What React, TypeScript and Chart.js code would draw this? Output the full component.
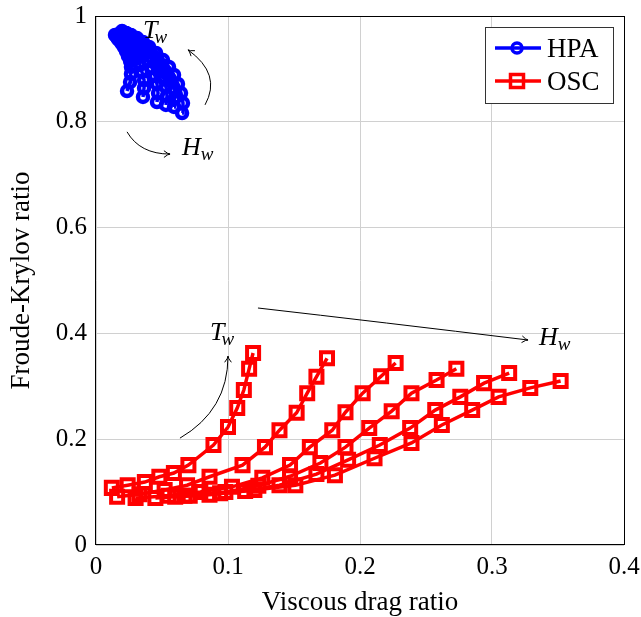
import React, { useEffect, useRef } from "react";
import { Chart, registerables } from "chart.js";

Chart.register(...registerables);

// HPA: one curve per wave height, points along wave period
const hpaViscous: number[][] = [
  [0.0235, 0.0258, 0.0265, 0.0265, 0.0258, 0.0242, 0.0227, 0.0212, 0.0197, 0.0182, 0.0167, 0.0159, 0.0152, 0.0144],
  [0.0356, 0.0364, 0.0364, 0.0348, 0.0333, 0.0311, 0.0288, 0.0265, 0.0242, 0.022, 0.0197, 0.0182, 0.0167, 0.0159],
  [0.0462, 0.047, 0.0462, 0.0447, 0.0424, 0.0394, 0.0364, 0.0326, 0.0295, 0.0265, 0.0235, 0.0212, 0.0189, 0.0174],
  [0.053, 0.0538, 0.053, 0.0515, 0.0485, 0.0455, 0.0417, 0.0379, 0.0341, 0.0303, 0.0265, 0.0235, 0.0212, 0.0189],
  [0.0591, 0.0598, 0.0591, 0.0568, 0.0538, 0.05, 0.0462, 0.0417, 0.0371, 0.0333, 0.0295, 0.0258, 0.0227, 0.0197],
  [0.0652, 0.0659, 0.0644, 0.0621, 0.0591, 0.0553, 0.0508, 0.0455, 0.0402, 0.0356, 0.0311, 0.0265, 0.0227, 0.0197],
];
const hpaFK: number[][] = [
  [0.8582, 0.8752, 0.8904, 0.9036, 0.9149, 0.9244, 0.9338, 0.9414, 0.9471, 0.9527, 0.9565, 0.9603, 0.9622, 0.9641],
  [0.8469, 0.8639, 0.879, 0.8941, 0.9074, 0.9206, 0.9319, 0.9395, 0.9471, 0.9527, 0.9565, 0.9603, 0.9622, 0.9641],
  [0.8374, 0.8544, 0.8715, 0.8866, 0.9017, 0.9149, 0.9263, 0.9376, 0.9452, 0.9509, 0.9565, 0.9603, 0.9641, 0.966],
  [0.8318, 0.8488, 0.8658, 0.8809, 0.896, 0.9112, 0.9225, 0.9338, 0.9433, 0.9509, 0.9565, 0.9622, 0.966, 0.9679],
  [0.828, 0.845, 0.862, 0.8771, 0.8922, 0.9074, 0.9206, 0.9319, 0.9414, 0.9509, 0.9584, 0.9641, 0.9679, 0.9698],
  [0.8166, 0.8355, 0.8544, 0.8715, 0.8885, 0.9036, 0.9168, 0.9301, 0.9414, 0.9509, 0.9584, 0.9641, 0.9679, 0.9716],
];

// OSC: one curve per wave height, points along wave period
const oscViscous: number[][] = [
  [0.012, 0.024, 0.037, 0.048, 0.059, 0.07, 0.089, 0.1, 0.107, 0.112, 0.116, 0.119],
  [0.016, 0.033, 0.052, 0.069, 0.086, 0.111, 0.128, 0.139, 0.152, 0.16, 0.167, 0.175],
  [0.03, 0.055, 0.079, 0.103, 0.126, 0.147, 0.162, 0.179, 0.189, 0.202, 0.216, 0.227],
  [0.045, 0.071, 0.098, 0.123, 0.147, 0.17, 0.189, 0.207, 0.224, 0.239, 0.258, 0.273],
  [0.06, 0.086, 0.113, 0.139, 0.167, 0.191, 0.215, 0.238, 0.257, 0.276, 0.294, 0.313],
  [0.067, 0.094, 0.12, 0.151, 0.181, 0.211, 0.239, 0.262, 0.285, 0.305, 0.329, 0.352],
];
const oscFK: number[][] = [
  [0.108, 0.113, 0.119, 0.129, 0.136, 0.151, 0.189, 0.223, 0.259, 0.293, 0.333, 0.363],
  [0.091, 0.096, 0.104, 0.113, 0.129, 0.151, 0.185, 0.217, 0.25, 0.287, 0.318, 0.353],
  [0.089, 0.093, 0.1, 0.11, 0.127, 0.151, 0.185, 0.217, 0.251, 0.287, 0.319, 0.344],
  [0.089, 0.093, 0.1, 0.112, 0.13, 0.155, 0.185, 0.221, 0.253, 0.287, 0.312, 0.333],
  [0.091, 0.095, 0.102, 0.113, 0.134, 0.161, 0.189, 0.221, 0.255, 0.28, 0.306, 0.325],
  [0.093, 0.098, 0.104, 0.113, 0.132, 0.164, 0.193, 0.227, 0.255, 0.28, 0.297, 0.31],
];

const xTickLabels = ["0", "0.1", "0.2", "0.3", "0.4"];
const yTickLabels = ["0", "0.2", "0.4", "0.6", "0.8", "1"];
const xTitle = "Viscous drag ratio";
const yTitle = "Froude-Krylov ratio";
const seriesNames = ["HPA", "OSC"];

// annotation arrows in data coordinates: start, control, end
const arrows = [
  { s: [0.0826, 0.832], c: [0.0955, 0.89], e: [0.0697, 0.936] },
  { s: [0.0235, 0.781], c: [0.0333, 0.739], e: [0.0561, 0.739] },
  { s: [0.0636, 0.202], c: [0.1, 0.255], e: [0.1, 0.357] },
  { s: [0.1227, 0.448], c: [0.2152, 0.4215], e: [0.3273, 0.3875] },
];
const mathLabels = [
  { main: "T", sub: "w", at: [0.0356, 0.958] },
  { main: "H", sub: "w", at: [0.0652, 0.737] },
  { main: "T", sub: "w", at: [0.0864, 0.388] },
  { main: "H", sub: "w", at: [0.3356, 0.378] },
];

const SERIF = "'Liberation Serif', 'DejaVu Serif', 'Times New Roman', serif";
const BLUE = "#0000ff";
const RED = "#ff0000";

const overlay = {
  id: "overlay",
  afterDatasetsDraw(chart: any) {
    const ctx = chart.ctx;
    const xs = chart.scales.x;
    const ys = chart.scales.y;
    const a = chart.chartArea;
    ctx.save();
    // frame
    ctx.strokeStyle = "#000";
    ctx.lineWidth = 1;
    ctx.strokeRect(Math.round(a.left) - 0.5, Math.round(a.top) + 0.5, Math.round(a.right - a.left) + 1, Math.round(a.bottom - a.top) - 1);

    // arrows
    ctx.strokeStyle = "#000";
    ctx.lineWidth = 1;
    for (const ar of arrows) {
      const sx = xs.getPixelForValue(ar.s[0]);
      const sy = ys.getPixelForValue(ar.s[1]);
      const cx = xs.getPixelForValue(ar.c[0]);
      const cy = ys.getPixelForValue(ar.c[1]);
      const ex = xs.getPixelForValue(ar.e[0]);
      const ey = ys.getPixelForValue(ar.e[1]);
      ctx.beginPath();
      ctx.moveTo(sx, sy);
      ctx.quadraticCurveTo(cx, cy, ex, ey);
      ctx.stroke();
      const ang = Math.atan2(ey - cy, ex - cx);
      const L = 7;
      ctx.beginPath();
      ctx.moveTo(ex - L * Math.cos(ang - 0.5), ey - L * Math.sin(ang - 0.5));
      ctx.quadraticCurveTo(ex - 2 * Math.cos(ang), ey - 2 * Math.sin(ang), ex, ey);
      ctx.quadraticCurveTo(ex - 2 * Math.cos(ang), ey - 2 * Math.sin(ang), ex - L * Math.cos(ang + 0.5), ey - L * Math.sin(ang + 0.5));
      ctx.stroke();
    }

    // math labels
    ctx.fillStyle = "#000";
    ctx.textBaseline = "alphabetic";
    ctx.textAlign = "left";
    for (const m of mathLabels) {
      const px = xs.getPixelForValue(m.at[0]);
      const py = ys.getPixelForValue(m.at[1]);
      ctx.font = `italic 26px ${SERIF}`;
      ctx.fillText(m.main, px, py);
      const w = ctx.measureText(m.main).width;
      ctx.font = `italic 19px ${SERIF}`;
      ctx.fillText(m.sub, px + w - (m.main === "T" ? 3 : 0), py + 5);
    }

    // axis titles
    ctx.font = `27px ${SERIF}`;
    ctx.textAlign = "center";
    ctx.fillText(xTitle, (a.left + a.right) / 2, a.bottom + 65);
    ctx.save();
    ctx.translate(a.left - 67, (a.top + a.bottom) / 2);
    ctx.rotate(-Math.PI / 2);
    ctx.fillText(yTitle, 0, 0);
    ctx.restore();

    // legend
    const lx = a.right - 139;
    const ly = a.top + 11;
    const lw = 128;
    const lh = 76;
    ctx.fillStyle = "#fff";
    ctx.fillRect(lx, ly, lw, lh);
    ctx.strokeStyle = "#333";
    ctx.lineWidth = 1;
    ctx.strokeRect(lx + 0.5, ly + 0.5, lw, lh);
    const rows = [
      { name: seriesNames[0], color: BLUE, shape: "circle", y: ly + 21 },
      { name: seriesNames[1], color: RED, shape: "rect", y: ly + 54 },
    ];
    for (const r of rows) {
      ctx.strokeStyle = r.color;
      ctx.lineWidth = 3.5;
      ctx.beginPath();
      ctx.moveTo(lx + 10, r.y);
      ctx.lineTo(lx + 56, r.y);
      ctx.stroke();
      ctx.beginPath();
      if (r.shape === "circle") {
        ctx.arc(lx + 32, r.y, 5, 0, Math.PI * 2);
      } else {
        ctx.rect(lx + 32 - 6.5, r.y - 6.5, 13, 13);
      }
      ctx.stroke();
      ctx.fillStyle = "#000";
      ctx.font = `27px ${SERIF}`;
      ctx.textAlign = "left";
      ctx.fillText(r.name, lx + 62, r.y + 9);
    }
    ctx.restore();
  },
};

export default function App() {
  const ref = useRef<HTMLCanvasElement | null>(null);
  useEffect(() => {
    if (!ref.current) return;
    const datasets: any[] = [];
    oscViscous.forEach((xsArr, i) => {
      datasets.push({
        label: i === 0 ? seriesNames[1] : "",
        data: xsArr.map((v, j) => ({ x: v, y: oscFK[i][j] })),
        showLine: true,
        borderColor: RED,
        backgroundColor: "rgba(0,0,0,0)",
        borderWidth: 3.5,
        pointStyle: "rect",
        pointRadius: 8.5,
        pointBorderWidth: 4,
        pointBorderColor: RED,
        pointBackgroundColor: "rgba(0,0,0,0)",
        tension: 0,
      });
    });
    hpaViscous.forEach((xsArr, i) => {
      datasets.push({
        label: i === 0 ? seriesNames[0] : "",
        data: xsArr.map((v, j) => ({ x: v, y: hpaFK[i][j] })),
        showLine: true,
        borderColor: BLUE,
        backgroundColor: "rgba(0,0,0,0)",
        borderWidth: 3.5,
        pointStyle: "circle",
        pointRadius: 5,
        pointBorderWidth: 4.5,
        pointBorderColor: BLUE,
        pointBackgroundColor: "rgba(0,0,0,0)",
        tension: 0,
      });
    });
    const chart = new Chart(ref.current, {
      type: "scatter",
      data: { datasets },
      options: {
        animation: false,
        responsive: false,
        devicePixelRatio: 1,
        layout: { padding: { left: 0, right: 17, top: 16, bottom: 0 } },
        plugins: { legend: { display: false }, tooltip: { enabled: false } },
        scales: {
          x: {
            type: "linear",
            min: 0,
            max: 0.4,
            afterFit: (s: any) => {
              s.height = 72;
              s.paddingLeft = 0;
              s.paddingRight = 0;
            },
            ticks: {
              stepSize: 0.1,
              padding: 7,
              color: "#000",
              font: { family: SERIF, size: 25 },
              maxRotation: 0,
              callback: (_v: any, i: number) => xTickLabels[i],
            },
            grid: { color: "#d0d0d0", lineWidth: 1, drawTicks: false },
            border: { display: false },
          },
          y: {
            type: "linear",
            min: 0,
            max: 1,
            afterFit: (s: any) => {
              s.width = 96;
              s.paddingTop = 0;
              s.paddingBottom = 0;
            },
            ticks: {
              stepSize: 0.2,
              padding: 9,
              color: "#000",
              font: { family: SERIF, size: 25 },
              callback: (_v: any, i: number) => yTickLabels[i],
            },
            grid: { color: "#d0d0d0", lineWidth: 1, drawTicks: false },
            border: { display: false },
          },
        },
      },
      plugins: [overlay],
    });
    return () => chart.destroy();
  }, []);
  return (
    <div style={{ position: "absolute", left: 0, top: 0, width: 641, height: 617, background: "#fff" }}>
      <canvas ref={ref} width={641} height={617} />
    </div>
  );
}
